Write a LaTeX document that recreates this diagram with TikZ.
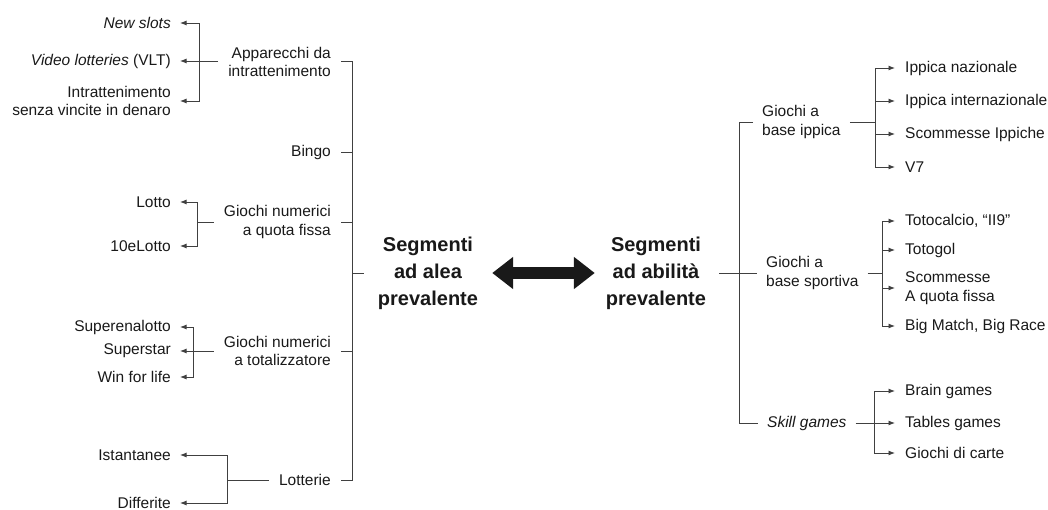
\documentclass[tikz,border=0pt]{standalone}
\usepackage{fontspec}
\setmainfont{Liberation Sans}
\usetikzlibrary{arrows.meta}
\begin{document}
\begin{tikzpicture}[x=1pt,y=-1pt,
  every node/.style={font=\fontsize{15.5}{18.5}\selectfont, text=black!90, inner ysep=2pt},
  lleaf/.style={anchor=east, align=right, inner xsep=9pt},
  lpar/.style={anchor=east, align=right, inner xsep=10pt},
  rleaf/.style={anchor=west, align=left, inner xsep=10pt},
  rpar/.style={anchor=west, align=left, inner xsep=9pt},
  seg/.style={font=\bfseries\fontsize{20}{27}\selectfont, align=center, inner sep=0pt},
  conn/.style={draw=black!75, line width=0.9pt},
  arr/.style={conn, -{Latex[length=6.5pt,width=5pt]}},
  bigarr/.style={draw=black!90, line width=12pt,
    {Triangle[length=21pt,width=31pt]}-{Triangle[length=21pt,width=31pt]}}
]
\useasboundingbox (0,0) rectangle (1048,510);

% ---- left side: leaves
\node[lleaf] (ns)   at (180,23)  {\textit{New slots}};
\node[lleaf] (vlt)  at (180,61)  {\textit{Video lotteries} (VLT)};
\node[lleaf] (isv)  at (180,101) {Intrattenimento\\senza vincite in denaro};
\node[lleaf] (lotto) at (180,202) {Lotto};
\node[lleaf] (dl)   at (180,246) {10eLotto};
\node[lleaf] (senal) at (180,327) {Superenalotto};
\node[lleaf] (sstar) at (180,351) {Superstar};
\node[lleaf] (wfl)  at (180,377) {Win for life};
\node[lleaf] (ist)  at (180,455) {Istantanee};
\node[lleaf] (dif)  at (180,503) {Differite};

% ---- left side: parents
\node[lpar] (app)   at (341,62)  {Apparecchi da\\intrattenimento};
\node[lpar] (bingo) at (341,152) {Bingo};
\node[lpar] (gnq)   at (341,222) {Giochi numerici\\a quota fissa};
\node[lpar] (gnt)   at (341,351) {Giochi numerici\\a totalizzatore};
\node[lpar] (lot)   at (341,480) {Lotterie};

% ---- centre
\node[seg] (segL) at (428,273) {Segmenti\\ad alea\\prevalente};
\node[seg] (segR) at (656,273) {Segmenti\\ad abilità\\prevalente};

% ---- right side: parents
\node[rpar] (ippica)   at (753,122) {Giochi a\\base ippica};
\node[rpar] (sportiva) at (757,273) {Giochi a\\base sportiva};
\node[rpar] (skill)    at (758,423) {\textit{Skill games}};

% ---- right side: leaves
\node[rleaf] (ip1) at (895,68)  {Ippica nazionale};
\node[rleaf] (ip2) at (895,101) {Ippica internazionale};
\node[rleaf] (ip3) at (895,134) {Scommesse Ippiche};
\node[rleaf] (ip4) at (895,167) {V7};
\node[rleaf] (sp1) at (895,221) {Totocalcio, “II9”};
\node[rleaf] (sp2) at (895,250) {Totogol};
\node[rleaf] (sp3) at (895,288) {Scommesse\\A quota fissa};
\node[rleaf] (sp4) at (895,326) {Big Match, Big Race};
\node[rleaf] (sk1) at (895,391) {Brain games};
\node[rleaf] (sk2) at (895,423) {Tables games};
\node[rleaf] (sk3) at (895,453) {Giochi di carte};

% ---- coordinates
\coordinate (b1) at (199,61);
\coordinate (b2) at (197,222);
\coordinate (b3) at (193,351);
\coordinate (b4) at (227,480);
\coordinate (vL) at (352,273);
\coordinate (tL) at (364,273);
\coordinate (vR) at (739,273);
\coordinate (tR) at (719,273);
\coordinate (c1) at (875,122);
\coordinate (c2) at (882,273);
\coordinate (c3) at (874,423);

% ---- left connectors
\draw[arr] (app.west |- b1) -- (vlt.east);
\draw[arr] (b1) |- (ns.east);
\draw[arr] (b1) |- (isv.east);

\draw[conn] (gnq.west) -- (b2);
\draw[arr] (b2) |- (lotto.east);
\draw[arr] (b2) |- (dl.east);

\draw[arr] (gnt.west) -- (sstar.east);
\draw[arr] (b3) |- (senal.east);
\draw[arr] (b3) |- (wfl.east);

\draw[conn] (lot.west) -- (b4);
\draw[arr] (b4) |- (ist.east);
\draw[arr] (b4) |- (dif.east);

\draw[conn] (app.east |- b1) -- (b1 -| vL) -- (lot.east -| vL) -- (lot.east);
\draw[conn] (bingo.east) -- (bingo.east -| vL);
\draw[conn] (gnq.east) -- (gnq.east -| vL);
\draw[conn] (gnt.east) -- (gnt.east -| vL);
\draw[conn] (vL) -- (tL);

% ---- centre arrow
\draw[bigarr, shorten <=14pt, shorten >=11pt] (segL.east) -- (segR.west);

% ---- right connectors
\draw[conn] (ippica.west) -- (ippica.west -| vR) -- (skill.west -| vR) -- (skill.west);
\draw[conn] (tR) -- (sportiva.west);

\draw[conn] (ippica.east) -- (c1);
\draw[arr] (c1) |- (ip1.west);
\draw[arr] (c1) |- (ip2.west);
\draw[arr] (c1) |- (ip3.west);
\draw[arr] (c1) |- (ip4.west);

\draw[conn] (sportiva.east) -- (c2);
\draw[arr] (c2) |- (sp1.west);
\draw[arr] (c2) |- (sp2.west);
\draw[arr] (c2) |- (sp3.west);
\draw[arr] (c2) |- (sp4.west);

\draw[arr] (skill.east) -- (sk2.west);
\draw[arr] (c3) |- (sk1.west);
\draw[arr] (c3) |- (sk3.west);
\end{tikzpicture}
\end{document}
